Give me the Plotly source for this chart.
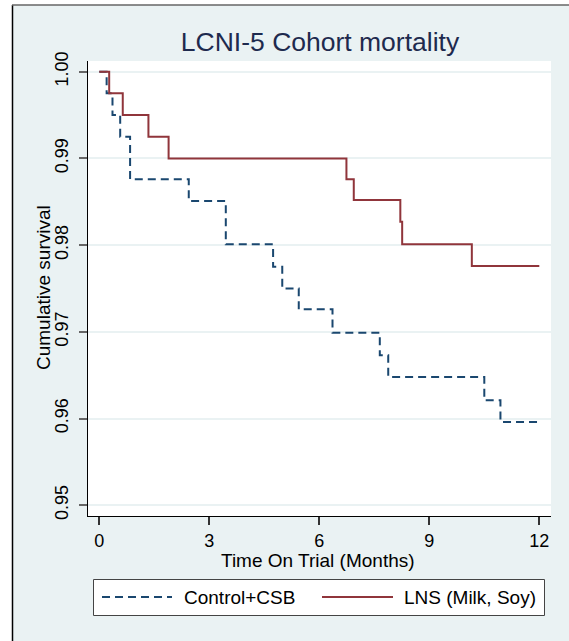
import plotly.graph_objects as go

# ---- data ----
control_time = [0, 0.20, 0.36, 0.57, 0.84, 2.44, 3.45, 4.74, 4.99, 5.44, 6.36, 7.65, 7.88, 10.50, 10.94, 12]
control_surv = [1.0, 0.9975, 0.9950, 0.9925, 0.9876, 0.9851, 0.9801, 0.9775, 0.9750, 0.9726, 0.9699, 0.9673, 0.9648, 0.9621, 0.9596, 0.9596]

lns_time = [0, 0.27, 0.64, 1.34, 1.89, 6.74, 6.94, 8.21, 8.26, 10.16, 12]
lns_surv = [1.0, 0.9975, 0.9950, 0.9925, 0.9900, 0.9876, 0.9852, 0.9827, 0.9801, 0.9776, 0.9776]

series_names = ["Control+CSB", "LNS (Milk, Soy)"]
x_ticks = [0, 3, 6, 9, 12]
y_ticks = [0.95, 0.96, 0.97, 0.98, 0.99, 1.00]

title_text = "LCNI-5 Cohort mortality"
x_title = "Time On Trial (Months)"
y_title = "Cumulative survival"

# ---- layout geometry (pixels) ----
W, H = 569, 641
ML, MR, MT, MB = 88, 18, 61, 125
PW = W - ML - MR
PH = H - MT - MB


def px(xp):
    return (xp - ML) / PW


def py(yp):
    return (H - MB - yp) / PH


NAVY = "#1A476F"
MAROON = "#90353B"
BG = "#EAF2F3"
FONT = "Liberation Sans, Arial, sans-serif"

fig = go.Figure()
fig.add_trace(go.Scatter(x=control_time, y=control_surv, mode="lines", name=series_names[0],
                         line=dict(shape="hv", color=NAVY, width=2, dash="8px,5px"),
                         showlegend=False))
fig.add_trace(go.Scatter(x=lns_time, y=lns_surv, mode="lines", name=series_names[1],
                         line=dict(shape="hv", color=MAROON, width=2),
                         showlegend=False))

shapes = []
# outer white strips (outside the graph region frame)
shapes.append(dict(type="rect", xref="paper", yref="paper", x0=px(-5), x1=px(12.5), y0=py(H + 5), y1=py(-5),
                   fillcolor="white", line=dict(width=0), layer="above"))
shapes.append(dict(type="rect", xref="paper", yref="paper", x0=px(-5), x1=px(W + 5), y0=py(5), y1=py(-5),
                   fillcolor="white", line=dict(width=0), layer="above"))
# frame lines
shapes.append(dict(type="line", xref="paper", yref="paper", x0=px(12.5), x1=px(12.5), y0=py(H + 5), y1=py(5),
                   line=dict(color="black", width=1.5)))
shapes.append(dict(type="line", xref="paper", yref="paper", x0=px(12), x1=px(W + 5), y0=py(5), y1=py(5),
                   line=dict(color="#666666", width=1.5)))
# legend box
shapes.append(dict(type="rect", xref="paper", yref="paper", x0=px(93.5), x1=px(544.5), y0=py(615.5), y1=py(579.5),
                   fillcolor="white", line=dict(color="#444444", width=1)))
shapes.append(dict(type="line", xref="paper", yref="paper", x0=px(102), x1=px(172), y0=py(597), y1=py(597),
                   line=dict(color=NAVY, width=2, dash="8px,5px")))
shapes.append(dict(type="line", xref="paper", yref="paper", x0=px(322), x1=px(393), y0=py(597), y1=py(597),
                   line=dict(color=MAROON, width=2)))

annotations = [
    dict(text=series_names[0], xref="paper", yref="paper", x=px(182), y=py(597), xanchor="left", yanchor="middle",
         showarrow=False, font=dict(size=19, color="black", family=FONT)),
    dict(text=series_names[1], xref="paper", yref="paper", x=px(402), y=py(597), xanchor="left", yanchor="middle",
         showarrow=False, font=dict(size=19, color="black", family=FONT)),
    dict(text=x_title, xref="paper", yref="paper", x=px(318), y=py(560), xanchor="center", yanchor="middle",
         showarrow=False, font=dict(size=19, color="black", family=FONT)),
    dict(text=y_title, xref="paper", yref="paper", x=px(43), y=py(288), xanchor="center", yanchor="middle",
         textangle=-90, showarrow=False, font=dict(size=19, color="black", family=FONT)),
]

fig.update_layout(
    width=W, height=H,
    margin=dict(l=ML, r=MR, t=MT, b=MB, pad=0),
    paper_bgcolor=BG, plot_bgcolor="white",
    font=dict(family=FONT, color="black"),
    title=dict(text=title_text, x=320 / W, xref="container", xanchor="center",
               y=1 - 42 / H, yref="container", yanchor="middle",
               font=dict(size=26.5, color="#1E2A4E", family=FONT)),
    shapes=shapes, annotations=annotations, showlegend=False,
)

fig.update_xaxes(range=[-0.308, 12.319], tickvals=x_ticks, ticktext=[str(v) for v in x_ticks],
                 showgrid=False, zeroline=False, showline=True, linecolor="black", linewidth=1,
                 ticks="outside", ticklen=8, tickwidth=1.5, tickcolor="#333333",
                 tickfont=dict(size=18, color="black", family=FONT), ticklabelstandoff=0)
fig.update_yaxes(range=[0.948754, 1.001234], tickvals=y_ticks, tickformat=".2f",
                 showgrid=True, gridcolor=BG, gridwidth=1.5, zeroline=False,
                 showline=True, linecolor="black", linewidth=1,
                 ticks="outside", ticklen=8, tickwidth=1.5, tickcolor="#666666", tickangle=-90,
                 tickfont=dict(size=18, color="black", family=FONT), ticklabelstandoff=4)

fig.write_html("out.html")
